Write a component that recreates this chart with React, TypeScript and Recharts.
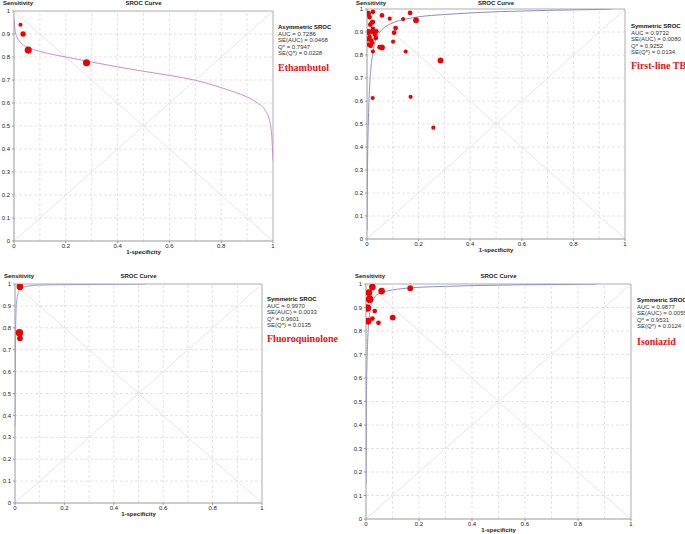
import { ComposedChart, Line, Scatter, XAxis, YAxis, ZAxis, ReferenceLine } from 'recharts';

// axis ticks shared by all four SROC panels
const xTicks = [0, 0.2, 0.4, 0.6, 0.8, 1];
const yTicks = [0, 0.1, 0.2, 0.3, 0.4, 0.5, 0.6, 0.7, 0.8, 0.9, 1];
const gridTicks = [0.1, 0.2, 0.3, 0.4, 0.5, 0.6, 0.7, 0.8, 0.9];

// Ethambutol (asymmetric SROC)
const ethCurveX = [0, 0.002, 0.005, 0.01, 0.02, 0.036, 0.05, 0.075, 0.1, 0.15, 0.2, 0.3, 0.4, 0.5, 0.6, 0.7, 0.8, 0.85, 0.9, 0.94, 0.97, 0.985, 0.995, 1];
const ethCurveY = [0.967, 0.94, 0.91, 0.89, 0.87, 0.852, 0.843, 0.832, 0.824, 0.811, 0.8, 0.778, 0.757, 0.738, 0.72, 0.699, 0.667, 0.648, 0.626, 0.6, 0.568, 0.53, 0.46, 0.35];
const ethFpr = [0.025, 0.035, 0.055, 0.28];
const ethSens = [0.94, 0.9, 0.83, 0.775];
const ethWeight = [1.5, 2.5, 4.5, 4.5];
const ethStats = ['Asymmetric SROC', 'AUC = 0.7286', 'SE(AUC) = 0.0468', 'Q* = 0.7947', 'SE(Q*) = 0.0228'];

// First-line TB
const flCurveX = [0, 0.001, 0.003, 0.005, 0.01, 0.015, 0.023, 0.035, 0.05, 0.075, 0.1, 0.15, 0.2, 0.3, 0.4, 0.5, 0.6, 0.7, 0.8, 0.9, 0.95];
const flCurveY = [0.04, 0.2, 0.4, 0.5, 0.66, 0.74, 0.81, 0.87, 0.9, 0.925, 0.94, 0.956, 0.966, 0.976, 0.983, 0.988, 0.991, 0.994, 0.996, 0.998, 1.0];
const flFpr = [0.004, 0.01, 0.023, 0.058, 0.088, 0.14, 0.167, 0.19, 0.013, 0.019, 0.023, 0.005, 0.013, 0.028, 0.036, 0.023, 0.03, 0.034, 0.01, 0.005, 0.017, 0.021, 0.008, 0.014, 0.049, 0.058, 0.023, 0.105, 0.111, 0.101, 0.15, 0.285, 0.022, 0.169, 0.257];
const flSens = [0.98, 0.965, 0.988, 0.972, 0.958, 0.956, 0.983, 0.951, 0.932, 0.942, 0.943, 0.9, 0.9, 0.9, 0.903, 0.914, 0.891, 0.874, 0.878, 0.869, 0.863, 0.852, 0.845, 0.84, 0.834, 0.833, 0.815, 0.897, 0.917, 0.858, 0.815, 0.776, 0.613, 0.618, 0.484];
const flWeight = [3, 2, 2, 2, 1.5, 1.5, 2, 3, 2, 2, 2, 3, 2, 2, 2, 2, 2, 2, 2, 2, 2, 1.5, 2, 2, 2, 3, 1.5, 2, 2, 1.5, 1.5, 3, 1.5, 1.5, 1.5];
const flStats = ['Symmetric SROC', 'AUC = 0.9732', 'SE(AUC) = 0.0080', 'Q* = 0.9252', 'SE(Q*) = 0.0134'];

// Fluoroquinolone
const fqCurveX = [0, 0.001, 0.002, 0.004, 0.006, 0.01, 0.015, 0.02, 0.03, 0.05, 0.1, 0.2, 0.3, 0.4, 0.53];
const fqCurveY = [0.35, 0.6, 0.75, 0.86, 0.91, 0.945, 0.965, 0.975, 0.984, 0.99, 0.995, 0.997, 0.998, 0.999, 1.0];
const fqFpr = [0.02, 0.018, 0.02];
const fqSens = [0.988, 0.777, 0.752];
const fqWeight = [4, 5, 3];
const fqStats = ['Symmetric SROC', 'AUC = 0.9970', 'SE(AUC) = 0.0033', 'Q* = 0.9601', 'SE(Q*) = 0.0135'];

// Isoniazid
const inhCurveX = [0, 0.001, 0.002, 0.004, 0.006, 0.009, 0.013, 0.02, 0.03, 0.05, 0.08, 0.12, 0.16, 0.2, 0.3, 0.4, 0.5, 0.6, 0.7, 0.87];
const inhCurveY = [0.15, 0.4, 0.55, 0.68, 0.75, 0.82, 0.87, 0.915, 0.94, 0.96, 0.97, 0.978, 0.983, 0.986, 0.99, 0.993, 0.995, 0.997, 0.998, 1.0];
const inhFpr = [0.024, 0.011, 0.014, 0.005, 0.008, 0.059, 0.167, 0.033, 0.024, 0.047, 0.101];
const inhSens = [0.987, 0.963, 0.935, 0.898, 0.842, 0.97, 0.982, 0.885, 0.853, 0.835, 0.857];
const inhWeight = [4, 4, 5, 5, 4, 4, 3, 2, 2, 2, 3];
const inhStats = ['Symmetric SROC', 'AUC = 0.9877', 'SE(AUC) = 0.0055', 'Q* = 0.9531', 'SE(Q*) = 0.0124'];

const SANS = '"Liberation Sans", Arial, sans-serif';
const SERIF = '"Liberation Serif", "Times New Roman", serif';

type Box = { x0: number; y0: number; x1: number; y1: number };

const toCurve = (xs: number[], ys: number[]) => xs.map((x, i) => ({ x, y: ys[i] }));
const toPoints = (xs: number[], ys: number[], ws: number[]) => xs.map((x, i) => ({ x, y: ys[i], w: ws[i] }));

function SrocPanel({ box, curve, points, curveColor, stats, drug, statsTop, drugTop, textLeft }: {
  box: Box; curve: { x: number; y: number }[]; points: { x: number; y: number; w: number }[];
  curveColor: string; stats: string[]; drug: string; statsTop: number; drugTop: number; textLeft: number;
}) {
  const yAxisW = 14;
  const xAxisH = 12;
  const mTop = 4;
  const width = box.x1 - box.x0 + yAxisW + 6;
  const height = box.y1 - box.y0 + mTop + xAxisH;
  const midX = (box.x0 + box.x1) / 2;
  const headTop = Math.max(0, box.y0 - 11);
  const tick = { fontSize: 6, fill: '#222', fontFamily: SANS };
  const label = { position: 'absolute' as const, fontFamily: SANS, fontSize: 6, fontWeight: 'bold' as const, color: '#222', lineHeight: '7px', whiteSpace: 'nowrap' as const };

  return (
    <>
      <div style={{ position: 'absolute', left: box.x0 - yAxisW, top: box.y0 - mTop }}>
        <ComposedChart width={width} height={height} margin={{ top: mTop, right: 6, bottom: 0, left: 0 }}>
          <XAxis type="number" dataKey="x" domain={[0, 1]} ticks={xTicks} tick={tick} tickSize={2} tickMargin={1}
            stroke="#999" height={xAxisH} allowDataOverflow interval={0} />
          <YAxis type="number" dataKey="y" domain={[0, 1]} ticks={yTicks} tick={tick} tickSize={2} tickMargin={2}
            stroke="#999" width={yAxisW} allowDataOverflow interval={0} />
          <ZAxis type="number" dataKey="w" domain={[1, 5]} range={[9, 44]} />
          {gridTicks.map((v) => (
            <ReferenceLine key={'vx' + v} x={v} stroke="#e4e4e4" strokeDasharray="3 2" />
          ))}
          {gridTicks.map((v) => (
            <ReferenceLine key={'hy' + v} y={v} stroke="#e4e4e4" strokeDasharray="3 2" />
          ))}
          <ReferenceLine segment={[{ x: 0, y: 1 }, { x: 1, y: 0 }]} stroke="#e6e6e6" />
          <ReferenceLine segment={[{ x: 0, y: 0 }, { x: 1, y: 1 }]} stroke="#e6e6e6" />
          <ReferenceLine y={1} stroke="#c8c8c8" strokeWidth={1.5} />
          <ReferenceLine x={1} stroke="#c8c8c8" strokeWidth={1.5} />
          <Line data={curve} dataKey="y" type="monotoneX" stroke={curveColor} strokeWidth={1} dot={false}
            isAnimationActive={false} />
          <Scatter data={points} fill="#ee0000" isAnimationActive={false} />
        </ComposedChart>
      </div>
      <div style={{ ...label, left: box.x0 - 11, top: headTop }}>Sensitivity</div>
      <div style={{ ...label, left: midX - 40, width: 80, textAlign: 'center', top: headTop }}>SROC Curve</div>
      <div style={{ ...label, left: midX - 40, width: 80, textAlign: 'center', top: box.y1 + 8 }}>1-specificity</div>
      <div style={{ position: 'absolute', left: textLeft, top: statsTop, fontFamily: SANS, fontSize: 6, lineHeight: '6.5px', color: '#333', whiteSpace: 'nowrap' }}>
        {stats.map((s, i) => (
          <div key={s} style={{ fontWeight: i === 0 ? 'bold' : 'normal', color: i === 0 ? '#111' : '#333' }}>{s}</div>
        ))}
      </div>
      <div style={{ position: 'absolute', left: textLeft, top: drugTop, fontFamily: SERIF, fontSize: 10, fontWeight: 'bold', color: '#ee1111', whiteSpace: 'nowrap', lineHeight: '11px' }}>{drug}</div>
    </>
  );
}

export default function App() {
  return (
    <div style={{ position: 'absolute', left: 0, top: 0, width: 685, height: 534, background: '#fff', overflow: 'hidden' }}>
      <SrocPanel box={{ x0: 14, y0: 11, x1: 273, y1: 241 }} curve={toCurve(ethCurveX, ethCurveY)}
        points={toPoints(ethFpr, ethSens, ethWeight)} curveColor="#cf8ad6" stats={ethStats} drug="Ethambutol"
        textLeft={278} statsTop={24} drugTop={62} />
      <SrocPanel box={{ x0: 367, y0: 9, x1: 625, y1: 239 }} curve={toCurve(flCurveX, flCurveY)}
        points={toPoints(flFpr, flSens, flWeight)} curveColor="#8c8cd2" stats={flStats} drug="First-line TB"
        textLeft={631} statsTop={23} drugTop={60} />
      <SrocPanel box={{ x0: 15, y0: 284, x1: 262, y1: 503 }} curve={toCurve(fqCurveX, fqCurveY)}
        points={toPoints(fqFpr, fqSens, fqWeight)} curveColor="#9a9ae0" stats={fqStats} drug="Fluoroquinolone"
        textLeft={267} statsTop={296} drugTop={333} />
      <SrocPanel box={{ x0: 366, y0: 284, x1: 631, y1: 519 }} curve={toCurve(inhCurveX, inhCurveY)}
        points={toPoints(inhFpr, inhSens, inhWeight)} curveColor="#8c8ce6" stats={inhStats} drug="Isoniazid"
        textLeft={637} statsTop={297} drugTop={336} />
    </div>
  );
}
